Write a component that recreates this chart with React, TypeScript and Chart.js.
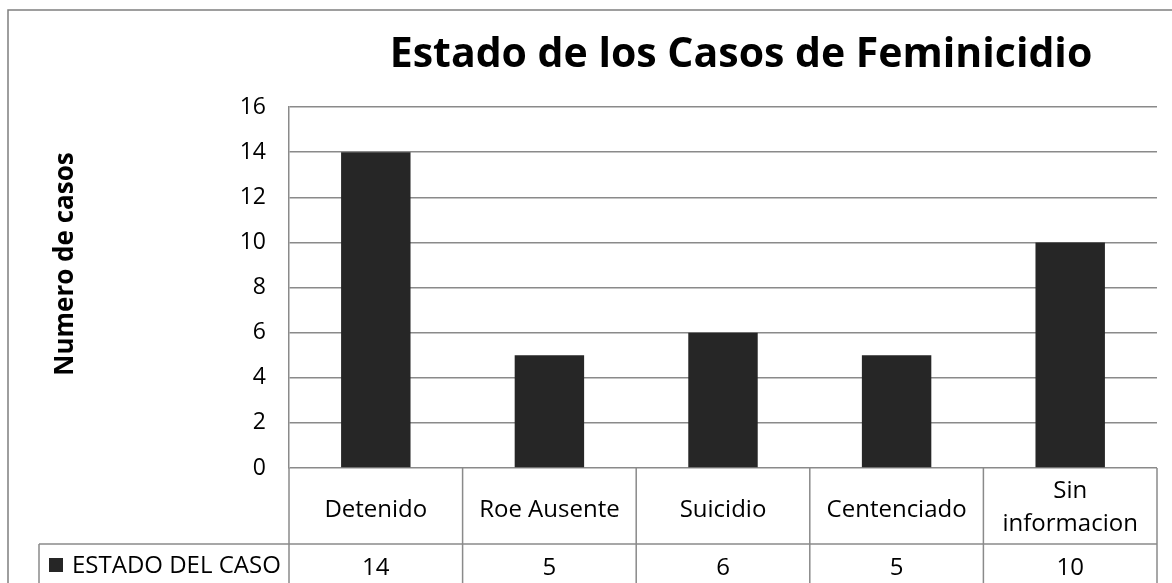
import React, { useEffect, useRef } from "react";
import { Chart, registerables } from "chart.js";

Chart.register(...registerables);

const TITLE = "Estado de los Casos de Feminicidio";
const Y_TITLE = "Numero de casos";
const SERIES_NAME = "ESTADO DEL CASO";
const categories: string[][] = [
  ["Detenido"],
  ["Roe Ausente"],
  ["Suicidio"],
  ["Centenciado"],
  ["Sin", "informacion"],
];
const values: number[] = [14, 5, 6, 5, 10];
const Y_MIN = 0;
const Y_MAX = 16;
const Y_STEP = 2;

const FONT = "'Open Sans', 'Noto Sans', sans-serif";
const GRID = "#8a8a8a";
const BAR = "#262626";

const tablePlugin = {
  id: "dataTable",
  afterDraw(chart: any) {
    const { ctx, chartArea, scales, width, height } = chart;
    const xs = scales.x;
    const n = categories.length;
    const colW = (chartArea.right - chartArea.left) / n;
    const top = chartArea.bottom;
    const rowLine = top + 76;
    const legendLeft = 39;
    ctx.save();
    // Outer border
    ctx.strokeStyle = "#7f7f7f";
    ctx.lineWidth = 1.5;
    ctx.beginPath();
    ctx.moveTo(8, height + 2);
    ctx.lineTo(8, 10);
    ctx.lineTo(width + 2, 10);
    ctx.stroke();

    // Table lines
    ctx.strokeStyle = GRID;
    ctx.lineWidth = 1.5;
    ctx.beginPath();
    for (let i = 0; i <= n; i++) {
      const x = chartArea.left + i * colW;
      ctx.moveTo(x, top);
      ctx.lineTo(x, height + 2);
    }
    ctx.moveTo(legendLeft, rowLine);
    ctx.lineTo(chartArea.right, rowLine);
    ctx.moveTo(legendLeft, rowLine);
    ctx.lineTo(legendLeft, height + 2);
    ctx.stroke();

    // Category labels
    ctx.fillStyle = "#000";
    ctx.font = `24px ${FONT}`;
    ctx.textAlign = "center";
    ctx.textBaseline = "alphabetic";
    categories.forEach((lines, i) => {
      const cx = xs.getPixelForValue(i);
      if (lines.length === 1) {
        ctx.fillText(lines[0], cx, top + 49);
      } else {
        ctx.fillText(lines[0], cx, top + 30);
        ctx.fillText(lines[1], cx, top + 63);
      }
      ctx.fillText(String(values[i]), cx, rowLine + 31);
    });

    // Legend cell
    ctx.fillStyle = BAR;
    ctx.fillRect(49, rowLine + 14, 14, 14);
    ctx.fillStyle = "#000";
    ctx.textAlign = "left";
    ctx.fillText(SERIES_NAME, 72, rowLine + 29);

    // Title
    ctx.font = `bold 41px ${FONT}`;
    ctx.textAlign = "center";
    ctx.fillText(TITLE, 741, 67);

    // Y axis title
    ctx.translate(66, 264);
    ctx.rotate(-Math.PI / 2);
    ctx.font = `bold 26px ${FONT}`;
    ctx.textBaseline = "middle";
    ctx.fillText(Y_TITLE, 0, 0);
    ctx.restore();
  },
};

export default function App() {
  const ref = useRef<HTMLCanvasElement>(null);
  useEffect(() => {
    if (!ref.current) return;
    const chart = new Chart(ref.current, {
      type: "bar",
      data: {
        labels: categories.map((c) => c.join(" ")),
        datasets: [
          {
            label: SERIES_NAME,
            data: values,
            backgroundColor: BAR,
            categoryPercentage: 1,
            barPercentage: 0.4,
          },
        ],
      },
      options: {
        animation: false,
        responsive: false,
        devicePixelRatio: 1,
        layout: { padding: { left: 0, top: 107, right: 15, bottom: 115 } },
        plugins: {
          legend: { display: false },
          title: { display: false },
          tooltip: { enabled: false },
        },
        scales: {
          x: { display: false },
          y: {
            min: Y_MIN,
            max: Y_MAX,
            afterFit(scale: any) {
              scale.width = 289;
            },
            ticks: {
              stepSize: Y_STEP,
              padding: 23,
              color: "#000",
              font: { family: FONT, size: 23 },
            },
            grid: { color: GRID, lineWidth: 1.5, drawTicks: false },
            border: { display: true, color: GRID, width: 1.5 },
          },
        },
      },
      plugins: [tablePlugin],
    });
    return () => chart.destroy();
  }, []);
  return (
    <div style={{ position: "absolute", left: 0, top: 0, width: 1172, height: 583, background: "#fff" }}>
      <canvas ref={ref} width={1172} height={583} />
    </div>
  );
}
